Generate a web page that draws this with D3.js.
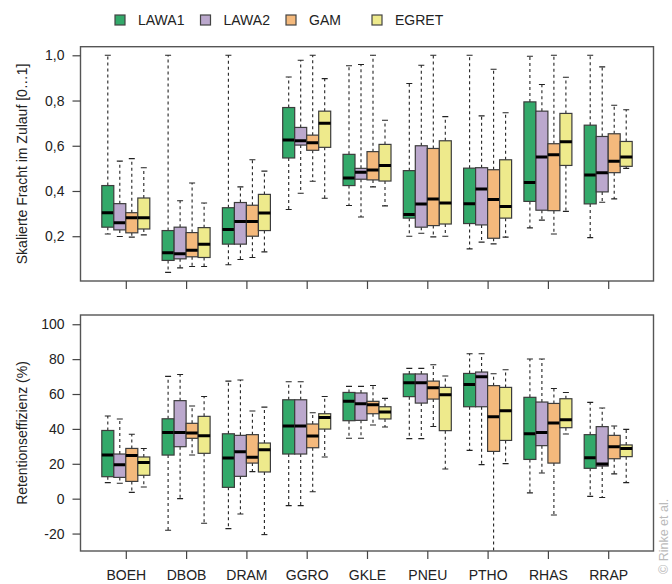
<!DOCTYPE html>
<html>
<head>
<meta charset="utf-8">
<script src="https://cdn.jsdelivr.net/npm/d3@7"></script>
<style>
  body { margin: 0; background: #fff; }
  svg { font-family: "Liberation Sans", Arial, sans-serif; }
</style>
</head>
<body>
<svg id="chart" width="672" height="584"></svg>
<script>
  // categories and series
  const sites = ["BOEH", "DBOB", "DRAM", "GGRO", "GKLE", "PNEU", "PTHO", "RHAS", "RRAP"];
  const series = ["LAWA1", "LAWA2", "GAM", "EGRET"];
  const colors = ["#33a96a", "#bba8cd", "#f4b97c", "#eeea8c"];

  // box stats per site: [whisker low, q1, median, q3, whisker high]
  // top panel: scaled load in inflow
  const frachtLAWA1 = [[0.21, 0.24, 0.304, 0.424, 1.0], [0.04, 0.093, 0.127, 0.225, 1.0], [0.074, 0.165, 0.23, 0.326, 1.0],
    [0.318, 0.546, 0.626, 0.769, 0.904], [0.336, 0.424, 0.457, 0.562, 0.954], [0.2, 0.28, 0.296, 0.49, 0.875],
    [0.144, 0.256, 0.344, 0.501, 1.0], [0.237, 0.354, 0.438, 0.794, 0.996], [0.194, 0.343, 0.471, 0.691, 1.0]];
  const frachtLAWA2 = [[0.199, 0.228, 0.26, 0.344, 0.532], [0.06, 0.1, 0.122, 0.24, 0.357], [0.097, 0.165, 0.265, 0.349, 0.418],
    [0.39, 0.603, 0.622, 0.681, 0.978], [0.285, 0.452, 0.483, 0.5, 0.959], [0.213, 0.24, 0.343, 0.6, 0.956],
    [0.174, 0.25, 0.409, 0.503, 0.732], [0.271, 0.315, 0.55, 0.753, 0.871], [0.35, 0.396, 0.481, 0.641, 0.949]];
  const frachtGAM = [[0.196, 0.215, 0.282, 0.304, 0.543], [0.066, 0.109, 0.138, 0.216, 0.435], [0.106, 0.2, 0.265, 0.337, 0.538],
    [0.443, 0.58, 0.613, 0.647, 1.0], [0.418, 0.449, 0.493, 0.574, 1.0], [0.197, 0.247, 0.365, 0.588, 1.0],
    [0.166, 0.191, 0.362, 0.494, 0.938], [0.21, 0.313, 0.56, 0.609, 1.0], [0.365, 0.481, 0.532, 0.653, 0.779]];
  const frachtEGRET = [[0.206, 0.232, 0.282, 0.369, 0.503], [0.066, 0.106, 0.165, 0.238, 0.347], [0.131, 0.225, 0.303, 0.385, 0.488],
    [0.368, 0.593, 0.699, 0.753, 0.897], [0.334, 0.444, 0.513, 0.606, 0.713], [0.2, 0.254, 0.347, 0.622, 0.729],
    [0.196, 0.28, 0.331, 0.538, 0.746], [0.31, 0.513, 0.618, 0.743, 0.903], [0.5, 0.509, 0.55, 0.619, 0.759]];

  // bottom panel: retention efficiency (%)
  const retLAWA1 = [[9.2, 12.6, 25.0, 39.1, 47.4], [-18.1, 25.0, 38.0, 45.8, 70.1], [-17.2, 6.5, 23.3, 37.2, 67.4],
    [-4.0, 25.6, 41.7, 56.7, 67.0], [34.6, 44.7, 55.8, 60.9, 64.4], [34.4, 58.5, 66.5, 71.5, 74.7],
    [27.7, 52.7, 65.5, 71.8, 83.1], [3.3, 22.5, 37.2, 58.1, 80.1], [1.3, 17.4, 23.5, 36.7, 55.2]];
  const retLAWA2 = [[8.8, 12.2, 19.5, 25.6, 45.7], [0.0, 29.8, 38.0, 56.2, 71.2], [-8.8, 12.8, 26.9, 36.3, 68.0],
    [-4.0, 25.6, 41.7, 56.7, 67.0], [34.6, 44.9, 54.4, 60.6, 64.4], [34.4, 54.8, 66.5, 71.5, 74.7],
    [19.5, 52.7, 69.9, 72.6, 83.1], [14.7, 30.4, 38.0, 55.4, 80.1], [0.7, 18.7, 19.9, 41.3, 52.0]];
  const retGAM = [[3.6, 9.9, 24.8, 28.8, 36.9], [25.0, 34.6, 37.6, 43.2, 53.1], [15.5, 20.4, 23.7, 36.7, 50.3],
    [4.0, 29.2, 35.9, 42.8, 49.3], [42.2, 48.7, 53.9, 55.8, 64.9], [41.4, 57.1, 63.6, 67.4, 76.8],
    [-36.0, 27.1, 47.0, 64.8, 71.6], [-9.4, 20.4, 43.4, 54.6, 63.2], [14.2, 22.9, 29.8, 36.3, 41.7]];
  const retEGRET = [[6.7, 13.4, 20.8, 23.9, 28.8], [-14.1, 26.0, 36.1, 47.2, 58.6], [-20.6, 15.3, 28.1, 31.9, 52.5],
    [23.9, 39.9, 46.6, 48.7, 58.6], [41.1, 45.7, 49.7, 52.7, 57.5], [17.0, 39.0, 59.6, 63.8, 70.3],
    [20.1, 33.4, 50.4, 63.8, 73.9], [37.1, 40.7, 45.3, 57.3, 60.9], [9.2, 24.1, 28.8, 30.8, 39.7]];

  const frachtTicks = [0.2, 0.4, 0.6, 0.8, 1.0];
  const retTicks = [-20, 0, 20, 40, 60, 80, 100];

  const svg = d3.select("#chart");
  const left = 80.5, right = 653.5;

  // site positions and series offsets within a group
  const x = d3.scalePoint().domain(sites).range([left + 45.3, right - 45.3]);
  const sub = d3.scaleBand().domain(series).range([-24, 24]);

  const color = d3.scaleOrdinal().domain(series).range(colors);

  const comma = d3.format(".1f");

  function drawPanel(top, bottom, domain, ticks, fmt, data, title, showLabels) {
    const y = d3.scaleLinear().domain(domain).range([bottom, top]);
    const g = svg.append("g");

    const clipId = "clip" + Math.round(top);
    svg.append("clipPath").attr("id", clipId)
      .append("rect").attr("x", left).attr("y", top).attr("width", right - left).attr("height", bottom - top);

    const plot = g.append("g").attr("clip-path", "url(#" + clipId + ")");

    series.forEach((s, si) => {
      const rows = data[si];
      const grp = plot.append("g");
      rows.forEach((d, i) => {
        const cx = x(sites[i]) + sub(s) + sub.bandwidth() / 2;
        const bw = sub.bandwidth();
        // whiskers
        grp.append("line")
          .attr("x1", cx).attr("x2", cx)
          .attr("y1", y(d[3])).attr("y2", y(d[4]))
          .attr("stroke", "#222").attr("stroke-width", 1.1)
          .attr("stroke-dasharray", "3,3");
        grp.append("line")
          .attr("x1", cx).attr("x2", cx)
          .attr("y1", y(d[1])).attr("y2", y(d[0]))
          .attr("stroke", "#222").attr("stroke-width", 1.1)
          .attr("stroke-dasharray", "3,3");
        // caps
        [d[0], d[4]].forEach(v => {
          grp.append("line")
            .attr("x1", cx - bw / 4).attr("x2", cx + bw / 4)
            .attr("y1", y(v)).attr("y2", y(v))
            .attr("stroke", "#222").attr("stroke-width", 1.1);
        });
        // box
        grp.append("rect")
          .attr("x", cx - bw / 2).attr("width", bw)
          .attr("y", y(d[3])).attr("height", y(d[1]) - y(d[3]))
          .attr("fill", color(s))
          .attr("stroke", "#3c3c3c").attr("stroke-width", 1.2);
        // median
        grp.append("line")
          .attr("x1", cx - bw / 2).attr("x2", cx + bw / 2)
          .attr("y1", y(d[2])).attr("y2", y(d[2]))
          .attr("stroke", "#000").attr("stroke-width", 3);
      });
    });

    // frame
    g.append("rect")
      .attr("x", left).attr("y", top)
      .attr("width", right - left).attr("height", bottom - top)
      .attr("fill", "none").attr("stroke", "#555").attr("stroke-width", 1.4);

    // y axis
    const yAxis = g.append("g")
      .attr("transform", "translate(" + left + ",0)")
      .call(d3.axisLeft(y).tickValues(ticks).tickSize(8).tickPadding(8).tickFormat(fmt));
    yAxis.select(".domain").remove();
    yAxis.selectAll(".tick line").attr("stroke", "#444").attr("stroke-width", 1.2);
    yAxis.selectAll("text").attr("font-size", 14).attr("fill", "#222")
      .attr("font-family", "'Liberation Sans', Arial, sans-serif");

    // x axis
    const xAxis = g.append("g")
      .attr("transform", "translate(0," + bottom + ")")
      .call(d3.axisBottom(x).tickSize(8).tickPadding(11).tickFormat(showLabels ? (d => d) : ""));
    xAxis.select(".domain").remove();
    xAxis.selectAll(".tick line").attr("stroke", "#444").attr("stroke-width", 1.2);
    xAxis.selectAll("text").attr("font-size", 14).attr("fill", "#222")
      .attr("font-family", "'Liberation Sans', Arial, sans-serif");

    // axis title
    svg.append("text")
      .attr("transform", "translate(27," + (top + bottom) / 2 + ") rotate(-90)")
      .attr("text-anchor", "middle")
      .attr("font-size", 14).attr("fill", "#222")
      .text(title);
  }

  drawPanel(46.7, 281, [0.002, 1.038], frachtTicks, d => comma(d).replace(".", ","),
    [frachtLAWA1, frachtLAWA2, frachtGAM, frachtEGRET], "Skalierte Fracht im Zulauf [0\u20261]", false);

  drawPanel(315, 551, [-30, 105.3], retTicks, d => d,
    [retLAWA1, retLAWA2, retGAM, retEGRET], "Retentionseffizienz (%)", true);

  // legend
  const legendX = [115, 200.5, 286, 372];
  const legend = svg.append("g");
  series.forEach((s, i) => {
    legend.append("rect")
      .attr("x", legendX[i]).attr("y", 15)
      .attr("width", 10).attr("height", 10)
      .attr("fill", color(s)).attr("stroke", "#444").attr("stroke-width", 1.2);
    legend.append("text")
      .attr("x", legendX[i] + 23).attr("y", 25)
      .attr("font-size", 14).attr("fill", "#222")
      .text(s);
  });

  // copyright note
  svg.append("text")
    .attr("transform", "translate(668,574) rotate(-90)")
    .attr("font-size", 12.5).attr("fill", "#bbb")
    .text("\u00a9 Rinke et al.");
</script>
</body>
</html>
